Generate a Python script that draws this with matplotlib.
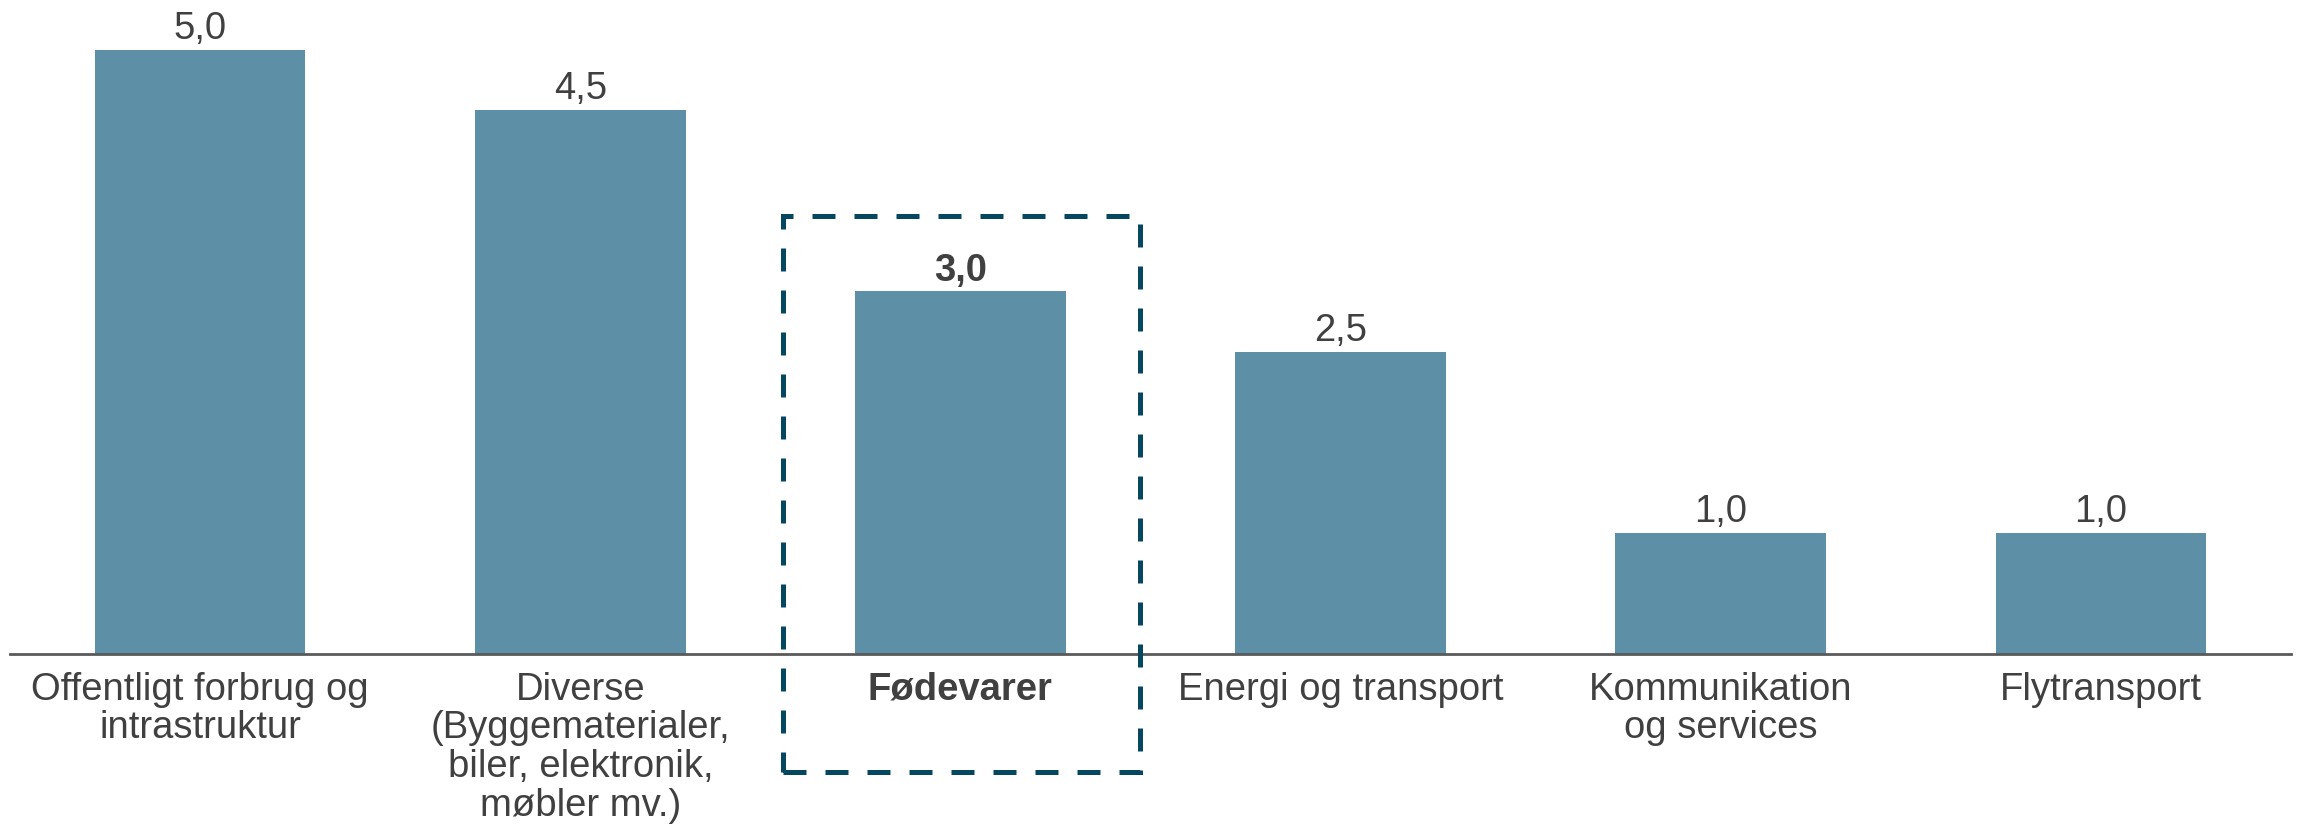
import matplotlib.pyplot as plt
from matplotlib.patches import Rectangle

categories = [
    "Offentligt forbrug og\nintrastruktur",
    "Diverse\n(Byggematerialer,\nbiler, elektronik,\nmøbler mv.)",
    "Fødevarer",
    "Energi og transport",
    "Kommunikation\nog services",
    "Flytransport",
]
values = [5.0, 4.5, 3.0, 2.5, 1.0, 1.0]
highlight = 2  # index of the highlighted category

bar_color = "#5D90A6"
text_color = "#404040"
box_color = "#04475F"
fs = 27.5

plt.rcParams['font.family'] = ['Liberation Sans', 'DejaVu Sans']

fig = plt.figure(figsize=(22.97, 8.28), dpi=100)
ax = fig.add_axes([0.00435, 0.2089, 0.99305, 0.7911])

x = list(range(len(categories)))
ax.bar(x, values, width=0.554, color=bar_color, zorder=2)

ax.set_xlim(-0.5, 5.5)
ax.set_ylim(0, 5.418)

# value labels
for i, v in enumerate(values):
    ax.annotate(f"{v:.1f}".replace('.', ','), (i, v), xytext=(0, 8.5),
                textcoords="offset points", ha="center", va="baseline",
                fontsize=fs, color=text_color,
                fontweight="bold" if i == highlight else "normal")

ax.set_xticks(x)
ax.set_xticklabels(categories, fontsize=fs, color=text_color, linespacing=1.1,
                   va="top")
for i, lbl in enumerate(ax.get_xticklabels()):
    if i == highlight:
        lbl.set_fontweight("bold")
ax.tick_params(axis="x", length=0, pad=12)
ax.set_yticks([])

for side in ["top", "right", "left"]:
    ax.spines[side].set_visible(False)
ax.spines["bottom"].set_color("#595959")
ax.spines["bottom"].set_linewidth(2)
ax.spines["bottom"].set_zorder(3)

# dashed highlight box around Fødevarer
box = Rectangle((highlight - 0.467, -0.976), 0.94, 4.6, fill=False,
                edgecolor=box_color, linewidth=3.6, linestyle=(0, (4.6, 3.8)),
                clip_on=False, zorder=4)
ax.add_patch(box)

fig.savefig("out.png", dpi=100)
